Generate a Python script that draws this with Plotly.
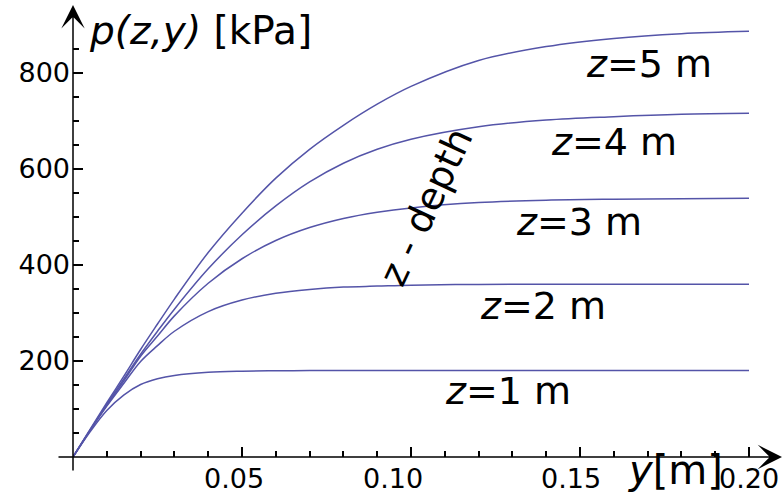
import plotly.graph_objects as go

# ---------------- data ----------------
y_m = [0, 0.005, 0.01, 0.015, 0.02, 0.025, 0.03, 0.04, 0.05, 0.06, 0.07, 0.08,
       0.09, 0.10, 0.12, 0.14, 0.16, 0.18, 0.20]

p_z1 = [0, 52, 97, 129, 151, 163, 170, 176.5, 178.8, 179.6, 180, 180,
        180, 180, 180, 180, 180, 180, 180]
p_z2 = [0, 55, 106, 153, 199, 232, 262, 303, 327, 341, 349, 354,
        356, 358, 359.5, 360, 360, 360, 360]
p_z3 = [0, 55, 108, 158, 210, 252, 294, 362, 413, 451, 478, 497,
        510, 519, 530, 535, 537, 538, 539]
p_z4 = [0, 55, 110, 162, 214, 262, 308, 392, 463, 523, 573, 612,
        641, 662, 688, 702, 709, 714, 716]
p_z5 = [0, 57, 113, 168, 224, 277, 329, 426, 508, 581, 641, 691,
        735, 772, 826, 855, 872, 882, 887]

series_values = [p_z1, p_z2, p_z3, p_z4, p_z5]
series_labels = ["<i>z</i>=1 m", "<i>z</i>=2 m", "<i>z</i>=3 m", "<i>z</i>=4 m", "<i>z</i>=5 m"]

x_tick_vals = [0.05, 0.10, 0.15, 0.20]
x_tick_text = ["0.05", "0.10", "0.15", "0.20"]
x_minor_vals = [0.01, 0.02, 0.03, 0.04, 0.06, 0.07, 0.08, 0.09, 0.11, 0.12,
                0.13, 0.14, 0.16, 0.17, 0.18, 0.19]
y_tick_vals = [200, 400, 600, 800]
y_tick_text = ["200", "400", "600", "800"]
y_minor_vals = [50, 100, 150, 250, 300, 350, 450, 500, 550, 650, 700, 750, 850]

# ---------------- layout geometry (pixels) ----------------
W, H = 783, 495
PX_LEFT, PX_RIGHT, PX_TOP, PX_BOTTOM = 73, 763, 20, 457
X_PER_PX = 0.05 / 169.0
Y_PER_PX = 200.0 / 96.0
x_max = (PX_RIGHT - PX_LEFT) * X_PER_PX
y_max = (PX_BOTTOM - PX_TOP) * Y_PER_PX


def paper_x(px):
    return (px - PX_LEFT) / (PX_RIGHT - PX_LEFT)


def paper_y(py):
    return (PX_BOTTOM - py) / (PX_BOTTOM - PX_TOP)


FONT = "DejaVu Sans"
LINE_COLOR = "rgb(84,84,168)"

fig = go.Figure()
for vals in series_values:
    fig.add_trace(go.Scatter(
        x=y_m, y=vals, mode="lines",
        line=dict(color=LINE_COLOR, width=1.5, shape="spline", smoothing=1.0),
        hoverinfo="skip", showlegend=False,
    ))

annotations = []
# axis lines with arrows
annotations.append(dict(xref="paper", yref="paper", x=paper_x(782), y=0,
                        ax=-(782 - 58), ay=0, axref="pixel", ayref="pixel",
                        showarrow=True, arrowhead=3, arrowsize=2.7, arrowwidth=1.5,
                        arrowcolor="black", text="", borderpad=0))
annotations.append(dict(xref="paper", yref="paper", x=0, y=paper_y(5),
                        ax=0, ay=(471 - 5), axref="pixel", ayref="pixel",
                        showarrow=True, arrowhead=3, arrowsize=2.6, arrowwidth=1.5,
                        arrowcolor="black", text="", borderpad=0))

# x tick labels
x_label_shift = [-8, -18, -9, 0]
for v, t, s in zip(x_tick_vals, x_tick_text, x_label_shift):
    annotations.append(dict(xref="x", yref="y", x=v, y=0, text=t, showarrow=False,
                            xanchor="center", yanchor="middle", xshift=s, yshift=-21,
                            font=dict(family=FONT, size=27, color="black")))

# curve labels (centre pixels)
label_pos = [(508, 391), (543, 306), (579, 222), (614, 142), (649, 64)]
for txt, (lx, ly) in zip(series_labels, label_pos):
    annotations.append(dict(xref="paper", yref="paper", x=paper_x(lx), y=paper_y(ly),
                            text=txt, showarrow=False, xanchor="center", yanchor="middle",
                            font=dict(family=FONT, size=38, color="black")))

# axis titles
annotations.append(dict(xref="paper", yref="paper", x=paper_x(200), y=paper_y(30),
                        text="<i>p(z,y)</i> [kPa]", showarrow=False,
                        xanchor="center", yanchor="middle",
                        font=dict(family=FONT, size=39, color="black")))
annotations.append(dict(xref="paper", yref="paper", x=paper_x(675), y=paper_y(470),
                        text="<i>y</i>[m]", showarrow=False,
                        xanchor="center", yanchor="middle",
                        font=dict(family=FONT, size=40, color="black")))
annotations.append(dict(xref="paper", yref="paper", x=paper_x(426), y=paper_y(207),
                        text="z - depth", showarrow=False, textangle=-65,
                        xanchor="center", yanchor="middle",
                        font=dict(family=FONT, size=38, color="black")))

fig.update_layout(
    width=W, height=H,
    margin=dict(l=PX_LEFT, r=W - PX_RIGHT, t=PX_TOP, b=H - PX_BOTTOM, pad=0),
    paper_bgcolor="white", plot_bgcolor="white",
    font=dict(family=FONT, color="black"),
    annotations=annotations,
    xaxis=dict(range=[0, x_max], showgrid=False, zeroline=False, showline=False,
               tickmode="array", tickvals=x_tick_vals, ticktext=x_tick_text,
               showticklabels=False, ticks="inside", ticklen=10, tickwidth=1.5,
               tickcolor="black",
               minor=dict(tickmode="array", tickvals=x_minor_vals, ticks="inside",
                          ticklen=6, tickwidth=1.5, tickcolor="black", showgrid=False)),
    yaxis=dict(range=[0, y_max], showgrid=False, zeroline=False, showline=False,
               tickmode="array", tickvals=y_tick_vals, ticktext=y_tick_text,
               ticks="inside", ticklen=10, tickwidth=1.5, tickcolor="black",
               tickfont=dict(family=FONT, size=27, color="black"),
               ticklabelstandoff=2,
               minor=dict(tickmode="array", tickvals=y_minor_vals, ticks="inside",
                          ticklen=6, tickwidth=1.5, tickcolor="black", showgrid=False)),
)

fig.write_html("out.html", config={"displayModeBar": False},
               post_script="document.body.style.margin='0';")
